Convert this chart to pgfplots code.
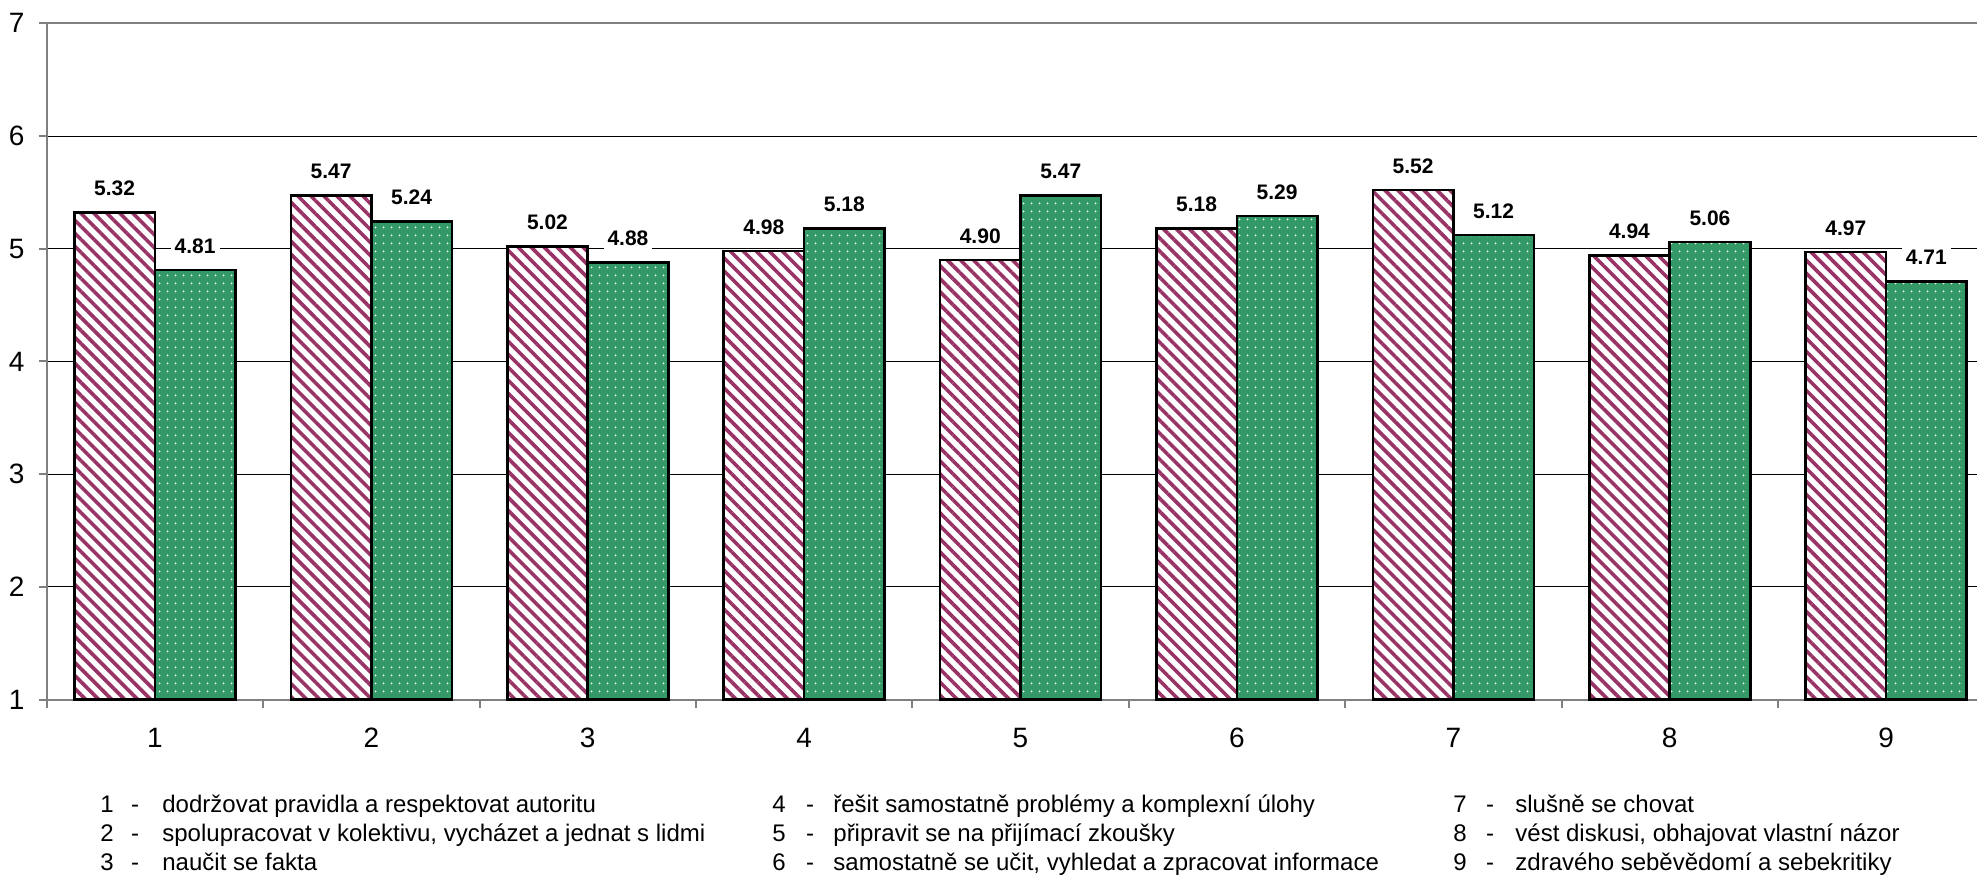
\documentclass[border=0pt]{standalone}
\usepackage{fontspec}
\setmainfont{Liberation Sans}
\usepackage{pgfplots}
\pgfplotsset{compat=1.18}
\usetikzlibrary{patterns.meta}
\definecolor{plum}{RGB}{153,51,102}
\definecolor{seagreen}{RGB}{51,153,102}
\definecolor{axisgray}{RGB}{128,128,128}
\newcommand{\lfont}{\fontsize{12}{14}\selectfont}
\newcommand{\tfont}{\fontsize{14}{16}\selectfont}

\begin{document}
\begin{tikzpicture}
\begin{axis}[
  at={(0,0)}, anchor=south west,
  width=965.15pt, height=338.1pt, scale only axis,
  xmin=0.5, xmax=9.42, ymin=1, ymax=7,
  ybar=0pt, bar width=0.372,
  axis x line*=bottom, axis y line*=left,
  axis line style={axisgray, line width=1pt},
  tick align=outside, major tick length=4pt,
  tick style={axisgray, line width=1pt},
  ytick={1,...,7}, yticklabels={1,2,3,4,5,6,7},
  xtick={0.5,1.5,...,8.5}, xticklabels={},
  extra x ticks={1,2,3,4,5,6,7,8,9},
  extra x tick labels={1,2,3,4,5,6,7,8,9},
  extra x tick style={tick style={draw=none}},
  ymajorgrids, grid style={black, line width=0.5pt},
  yticklabel style={anchor=east, inner sep=0pt, xshift=-6.9pt, font=\tfont},
  xticklabel style={anchor=center, inner sep=0pt, yshift=-15.25pt, font=\tfont},
  /pgf/number format/assume math mode=true,
  nodes near coords={\pgfmathprintnumber[fixed, fixed zerofill, precision=2]{\pgfplotspointmeta}},
  nodes near coords style={font=\bfseries\fontsize{10.5}{12}\selectfont, fill=white, inner sep=2pt, anchor=center, yshift=12pt},
  clip=false,
]
% series 1: striped
\addplot[draw=black, line width=1.3pt, preaction={fill=white},
  pattern={Lines[angle=-45, distance=4.6pt, line width=1.8pt]}, pattern color=plum]
  coordinates {(1,5.32) (2,5.47) (3,5.02) (4,4.98) (5,4.90) (6,5.18) (7,5.52) (8,4.94) (9,4.97)};
% series 2: dotted green
\addplot[draw=black, line width=1.3pt, preaction={fill=seagreen},
  pattern={Dots[distance=4pt, radius=0.55pt]}, pattern color=white]
  coordinates {(1,4.81) (2,5.24) (3,4.88) (4,5.18) (5,5.47) (6,5.29) (7,5.12) (8,5.06) (9,4.71)};
\draw[axisgray, line width=1pt] (axis cs:0.5,7) -- (axis cs:9.42,7);
\end{axis}

% legend text under the chart
\begin{scope}[every node/.style={font=\lfont, inner sep=0pt}]
\node[anchor=base west] at (26.65pt,-56.25pt) {1};
\node[anchor=base] at (44.15pt,-56.25pt) {-};
\node[anchor=base west] at (57.65pt,-56.25pt) {dodržovat pravidla a respektovat autoritu};
\node[anchor=base west] at (26.65pt,-70.75pt) {2};
\node[anchor=base] at (44.15pt,-70.75pt) {-};
\node[anchor=base west] at (57.65pt,-70.75pt) {spolupracovat v kolektivu, vycházet a jednat s lidmi};
\node[anchor=base west] at (26.65pt,-85.25pt) {3};
\node[anchor=base] at (44.15pt,-85.25pt) {-};
\node[anchor=base west] at (57.65pt,-85.25pt) {naučit se fakta};

\node[anchor=base west] at (362.65pt,-56.25pt) {4};
\node[anchor=base] at (381.65pt,-56.25pt) {-};
\node[anchor=base west] at (393.15pt,-56.25pt) {řešit samostatně problémy a komplexní úlohy};
\node[anchor=base west] at (362.65pt,-70.75pt) {5};
\node[anchor=base] at (381.65pt,-70.75pt) {-};
\node[anchor=base west] at (393.15pt,-70.75pt) {připravit se na přijímací zkoušky};
\node[anchor=base west] at (362.65pt,-85.25pt) {6};
\node[anchor=base] at (381.65pt,-85.25pt) {-};
\node[anchor=base west] at (393.15pt,-85.25pt) {samostatně se učit, vyhledat a zpracovat informace};

\node[anchor=base west] at (703.15pt,-56.25pt) {7};
\node[anchor=base] at (721.65pt,-56.25pt) {-};
\node[anchor=base west] at (734.15pt,-56.25pt) {slušně se chovat};
\node[anchor=base west] at (703.15pt,-70.75pt) {8};
\node[anchor=base] at (721.65pt,-70.75pt) {-};
\node[anchor=base west] at (734.15pt,-70.75pt) {vést diskusi, obhajovat vlastní názor};
\node[anchor=base west] at (703.15pt,-85.25pt) {9};
\node[anchor=base] at (721.65pt,-85.25pt) {-};
\node[anchor=base west] at (734.15pt,-85.25pt) {zdravého seběvědomí a sebekritiky};
\end{scope}

\pgfresetboundingbox
\path[use as bounding box] (-23.35pt,-87.25pt) rectangle (965.15pt,349.75pt);
\end{tikzpicture}
\end{document}
